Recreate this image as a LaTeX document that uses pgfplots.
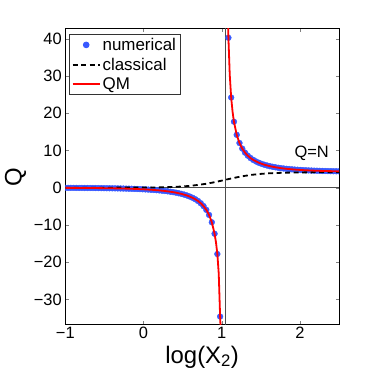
\documentclass[border=0pt]{standalone}
\usepackage{fontspec}
\setmainfont{Liberation Sans}
\usepackage{pgfplots}
\pgfplotsset{compat=1.18}
\usetikzlibrary{calc}
\definecolor{numblue}{rgb}{0.22,0.35,1}
\begin{document}
\begin{tikzpicture}
\begin{axis}[name=ax, scale only axis, width=273.7bp, height=295.7bp,
 xmin=-1, xmax=2.5, ymin=-36.6, ymax=42.8,
 clip marker paths=true,
 xtick={-1,0,1,2}, xticklabels={−1,0,1,2},
 ytick={-30,-20,...,40}, yticklabels={−30,−20,−10,0,10,20,30,40},
 tick align=inside, major tick length=3.5bp, minor tick num=0,
 tick label style={font=\fontsize{16.5}{18}\selectfont},
 axis line style={line width=0.8bp},
 xlabel={log(X\textsubscript{2})}, ylabel={Q},
 label style={font=\fontsize{24}{28}\selectfont},
 xlabel style={at={(axis description cs:0.5,-0.132)}, anchor=base},
 ylabel style={at={(axis description cs:-0.182,0.495)}, anchor=center},
 legend style={at={(axis description cs:0.015,0.982)}, anchor=north west, draw=black!80, line width=0.8bp, font=\fontsize{17}{19}\selectfont, inner xsep=2bp, inner ysep=2bp, row sep=2bp},
 legend cell align=left,
 legend image code/.code={\draw[#1] (0bp,0bp) -- (27bp,0bp);},
]
% reference lines
\addplot[forget plot, gray!60!black, line width=0.6bp] coordinates {(-1,0) (2.5,0)};
\addplot[forget plot, gray!60!black, line width=0.6bp] coordinates {(1.0414,-40) (1.0414,50)};

% numerical
\addplot[only marks, mark=*, mark size=2.9bp, numblue, mark options={draw=none, fill=numblue},
 legend image code/.code={\fill[numblue] (13.5bp,0bp) circle (2.9bp);}] table {
x y
-1.0000 -0.0394
-0.9646 -0.0427
-0.9293 -0.0464
-0.8939 -0.0504
-0.8586 -0.0547
-0.8232 -0.0594
-0.7879 -0.0645
-0.7525 -0.0701
-0.7172 -0.0761
-0.6818 -0.0827
-0.6465 -0.0899
-0.6111 -0.0977
-0.5758 -0.1062
-0.5404 -0.1154
-0.5051 -0.1255
-0.4697 -0.1365
-0.4343 -0.1484
-0.3990 -0.1615
-0.3636 -0.1758
-0.3283 -0.1913
-0.2929 -0.2084
-0.2576 -0.2270
-0.2222 -0.2474
-0.1869 -0.2697
-0.1515 -0.2941
-0.1162 -0.3209
-0.0808 -0.3504
-0.0455 -0.3828
-0.0101 -0.4185
0.0253 -0.4578
0.0606 -0.5012
0.0960 -0.5492
0.1313 -0.6024
0.1667 -0.6614
0.2020 -0.7271
0.2374 -0.8004
0.2727 -0.8823
0.3081 -0.9743
0.3434 -1.0779
0.3788 -1.1950
0.4141 -1.3280
0.4495 -1.4799
0.4848 -1.6543
0.5202 -1.8558
0.5556 -2.0907
0.5909 -2.3667
0.6263 -2.6947
0.6616 -3.0893
0.6970 -3.5715
0.7323 -4.1717
0.7677 -4.9364
0.8030 -5.9403
0.8384 -7.3107
0.8737 -9.2854
0.9091 -12.364
0.9444 -17.806
0.9798 -34.6
1.0859 40.26
1.1212 24.218
1.1566 17.712
1.1919 14.196
1.2273 12.000
1.2626 10.503
1.2980 9.420
1.3333 8.602
1.3687 7.964
1.4040 7.455
1.4394 7.040
1.4747 6.696
1.5101 6.408
1.5455 6.163
1.5808 5.954
1.6162 5.773
1.6515 5.615
1.6869 5.478
1.7222 5.357
1.7576 5.250
1.7929 5.155
1.8283 5.071
1.8636 4.995
1.8990 4.928
1.9343 4.867
1.9697 4.812
2.0051 4.763
2.0404 4.719
2.0758 4.678
2.1111 4.642
2.1465 4.608
2.1818 4.578
2.2172 4.551
2.2525 4.526
2.2879 4.503
2.3232 4.482
2.3586 4.463
2.3939 4.446
2.4293 4.430
2.4646 4.415
2.5000 4.402
};
\addlegendentry{numerical}

% classical
\addplot[black, line width=1.8bp, dash pattern=on 5bp off 3.5bp] table {
x y
-1.0 0.0004
-0.5 0.0035
0.0 0.0347
0.2 0.0859
0.4 0.209
0.6 0.488
0.8 1.042
0.9 1.439
1.0 1.896
1.1 2.371
1.2 2.816
1.3 3.195
1.4 3.492
1.5 3.708
1.6 3.860
1.8 4.029
2.0 4.100
2.25 4.133
2.5 4.143
};
\addlegendentry{classical}

% QM
\addplot[red, line width=1.8bp] table {
x y
-1.0000 -0.0394
-0.8232 -0.0594
-0.6465 -0.0899
-0.4697 -0.1365
-0.2929 -0.2084
-0.1515 -0.2941
-0.0101 -0.4185
0.0960 -0.5492
0.2020 -0.7271
0.2727 -0.8823
0.3434 -1.0779
0.4141 -1.3280
0.4848 -1.6543
0.5556 -2.0907
0.6263 -2.6947
0.6616 -3.0893
0.6970 -3.5715
0.7323 -4.1717
0.7677 -4.9364
0.8030 -5.9403
0.8384 -7.3107
0.8737 -9.2854
0.9091 -12.364
0.9270 -14.68
0.9444 -17.806
0.9620 -23.0
0.9798 -34.6
0.9950 -42
};
\addplot[forget plot, red, line width=1.8bp] table {
x y
1.0780 48
1.0859 40.26
1.1030 30.3
1.1212 24.218
1.1390 20.4
1.1566 17.712
1.1919 14.196
1.2273 12.000
1.2626 10.503
1.2980 9.420
1.3333 8.602
1.3687 7.964
1.4040 7.455
1.4747 6.696
1.5455 6.163
1.6162 5.773
1.6869 5.478
1.7576 5.250
1.8283 5.071
1.8990 4.928
1.9697 4.812
2.0404 4.719
2.1111 4.642
2.1818 4.578
2.2525 4.526
2.3232 4.482
2.3939 4.446
2.4646 4.415
2.5000 4.402
};
\addlegendentry{QM}

\node[font=\fontsize{16.5}{18}\selectfont] at (axis cs:2.15,9.2) {Q=N};
\end{axis}
\pgfresetboundingbox
\path[use as bounding box] ($(ax.south west)+(-65.3bp,-54bp)$) rectangle ($(ax.north east)+(35bp,28.3bp)$);
\end{tikzpicture}
\end{document}
